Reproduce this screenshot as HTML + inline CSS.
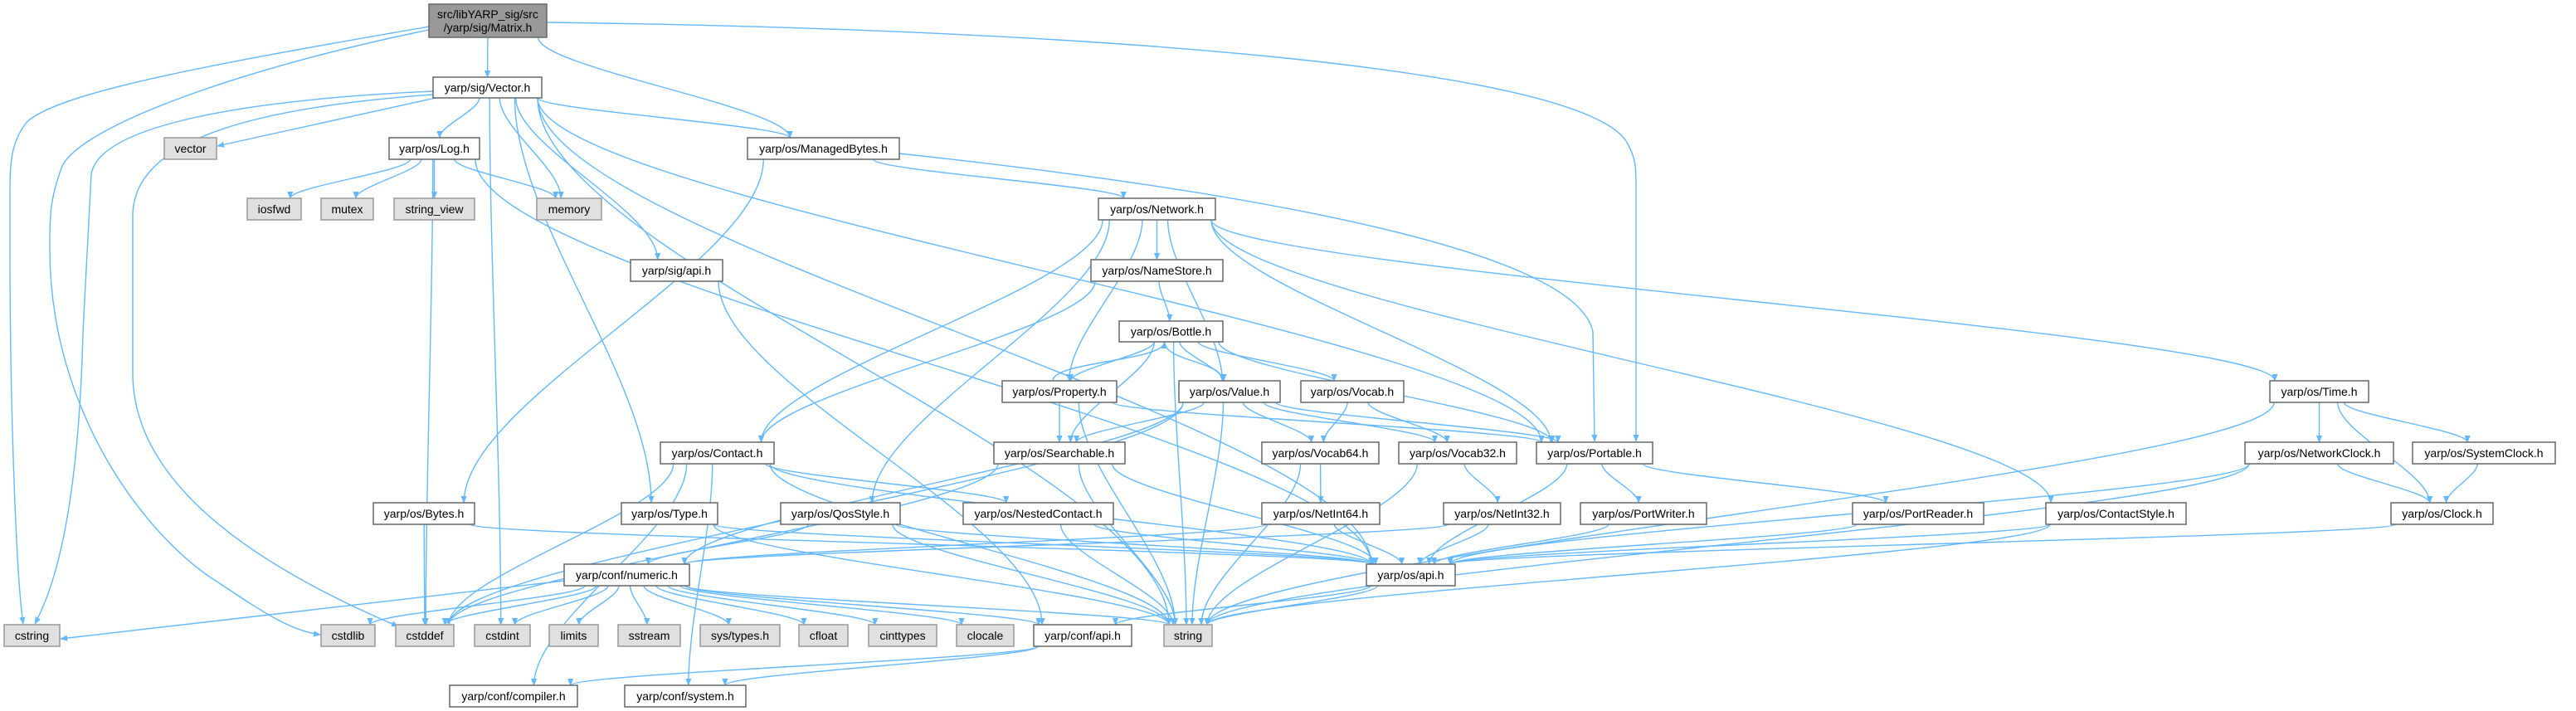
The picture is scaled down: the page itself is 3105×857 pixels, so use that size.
<!DOCTYPE html>
<html><head><meta charset="utf-8"><style>
html,body{margin:0;padding:0;background:#fff;}
svg{display:block}
text{font-family:"Liberation Sans",sans-serif;font-size:14px;fill:#000}
</style></head><body>
<svg id="g" width="3105" height="857" viewBox="0 0 3105 857" xmlns="http://www.w3.org/2000/svg">
<defs><marker id="a" viewBox="0 0 10 10" refX="9" refY="5" markerWidth="9" markerHeight="9" orient="auto" markerUnits="userSpaceOnUse"><path d="M0,1 L10,5 L0,9 z" fill="#63b8ff"/></marker></defs>
<g id="edges" fill="none" stroke="#63b8ff" stroke-width="1.4"></g>
<g id="nodes"></g>
</svg>
<script>
var N={
M:[517,5,659,45,"src/libYARP_sig/src|/yarp/sig/Matrix.h",2],
Vec:[522,93,653,118,"yarp/sig/Vector.h",0],
vector:[198,166,261,192,"vector",1],
Log:[469,166,578,192,"yarp/os/Log.h",0],
iosfwd:[298,239,363,265,"iosfwd",1],
mutex:[387,239,450,265,"mutex",1],
sv:[475,239,572,265,"string_view",1],
memory:[647,239,725,265,"memory",1],
MB:[901,166,1084,192,"yarp/os/ManagedBytes.h",0],
sigapi:[760,313,871,339,"yarp/sig/api.h",0],
Net:[1324,239,1465,265,"yarp/os/Network.h",0],
NS:[1315,313,1474,339,"yarp/os/NameStore.h",0],
Bot:[1349,387,1474,412,"yarp/os/Bottle.h",0],
Prop:[1208,459,1346,485,"yarp/os/Property.h",0],
Val:[1421,459,1543,485,"yarp/os/Value.h",0],
Voc:[1568,459,1692,485,"yarp/os/Vocab.h",0],
Time:[2736,459,2855,485,"yarp/os/Time.h",0],
Con:[796,533,933,559,"yarp/os/Contact.h",0],
Sea:[1198,533,1356,559,"yarp/os/Searchable.h",0],
V64:[1521,533,1662,559,"yarp/os/Vocab64.h",0],
V32:[1686,533,1828,559,"yarp/os/Vocab32.h",0],
Por:[1852,533,1992,559,"yarp/os/Portable.h",0],
NC:[2706,533,2885,559,"yarp/os/NetworkClock.h",0],
SC:[2908,533,3080,559,"yarp/os/SystemClock.h",0],
Byt:[450,606,572,632,"yarp/os/Bytes.h",0],
Typ:[749,606,865,632,"yarp/os/Type.h",0],
Qos:[941,606,1085,632,"yarp/os/QosStyle.h",0],
Nest:[1161,606,1342,632,"yarp/os/NestedContact.h",0],
N64:[1521,606,1663,632,"yarp/os/NetInt64.h",0],
N32:[1740,606,1881,632,"yarp/os/NetInt32.h",0],
PW:[1905,606,2057,632,"yarp/os/PortWriter.h",0],
PR:[2233,606,2391,632,"yarp/os/PortReader.h",0],
CS:[2466,606,2635,632,"yarp/os/ContactStyle.h",0],
Clk:[2882,606,3005,632,"yarp/os/Clock.h",0],
num:[680,680,831,706,"yarp/conf/numeric.h",0],
osapi:[1647,680,1754,706,"yarp/os/api.h",0],
cstring:[5,753,72,779,"cstring",1],
cstdlib:[387,753,452,779,"cstdlib",1],
cstddef:[477,753,547,779,"cstddef",1],
cstdint:[572,753,639,779,"cstdint",1],
limits:[662,753,721,779,"limits",1],
sstream:[745,753,820,779,"sstream",1],
systypes:[844,753,940,779,"sys/types.h",1],
cfloat:[963,753,1022,779,"cfloat",1],
cinttypes:[1047,753,1129,779,"cinttypes",1],
clocale:[1153,753,1222,779,"clocale",1],
confapi:[1246,753,1364,779,"yarp/conf/api.h",0],
string:[1403,753,1461,779,"string",1],
comp:[542,826,696,852,"yarp/conf/compiler.h",0],
sys:[753,826,899,852,"yarp/conf/system.h",0]
};
var E=[
["M","Vec"],["M","MB"],["M","Por"],["M","cstring"],["M","cstdlib"],
["Vec","vector"],["Vec","Log"],["Vec","memory"],["Vec","MB"],["Vec","sigapi"],["Vec","Typ"],["Vec","Por"],["Vec","cstring"],["Vec","cstddef"],["Vec","string"],["Vec","osapi"],["Vec","cstdint"],
["Log","iosfwd"],["Log","mutex"],["Log","sv"],["Log","memory"],["Log","cstddef"],["Log","osapi"],
["MB","Net"],["MB","Byt"],["MB","Por"],
["sigapi","confapi"],
["Net","NS"],["Net","Con"],["Net","Prop"],["Net","Val"],["Net","Por"],["Net","Time"],["Net","CS"],["Net","Qos"],
["NS","Bot"],["NS","Con"],
["Bot","Prop"],["Bot","Val"],["Bot","Sea"],["Bot","Voc"],["Bot","Por"],["Bot","string"],
["Prop","Bot"],["Prop","Sea"],["Prop","Por"],["Prop","string"],
["Val","Bot"],["Val","Sea"],["Val","V64"],["Val","V32"],["Val","Por"],["Val","string"],["Val","cstddef"],["Val","num"],
["Voc","V64"],["Voc","V32"],
["Sea","osapi"],["Sea","string"],["Sea","cstddef"],
["V64","N64"],["V64","string"],["V32","N32"],["V32","string"],
["Por","PW"],["Por","PR"],["Por","osapi"],
["Con","Nest"],["Con","osapi"],["Con","string"],["Con","comp"],["Con","sys"],["Con","cstddef"],
["Byt","cstddef"],["Byt","osapi"],["Typ","osapi"],["Typ","string"],
["Qos","num"],["Qos","osapi"],["Qos","string"],
["Nest","osapi"],["Nest","string"],
["N64","osapi"],["N64","num"],["N32","osapi"],["N32","num"],
["PW","osapi"],["PR","osapi"],["CS","osapi"],["CS","string"],["Clk","osapi"],
["Time","NC"],["Time","SC"],["Time","Clk"],["Time","string"],
["NC","Clk"],["NC","osapi"],["NC","string"],["SC","Clk"],
["osapi","string"],["osapi","confapi"],
["num","cstring"],["num","cstdlib"],["num","cstddef"],["num","cstdint"],["num","limits"],["num","sstream"],["num","systypes"],["num","cfloat"],["num","cinttypes"],["num","clocale"],["num","confapi"],["num","string"],
["confapi","comp"],["confapi","sys"]
];
var P={
"M>cstring":"M517,32 C300,70 60,110 30,150 C12,175 12,200 12,240 L12,300 C12,500 20,700 28,752",
"M>cstdlib":"M517,36 C300,80 100,150 75,200 C60,240 60,260 60,300 C60,500 180,650 260,700 C320,740 350,760 386,765",
"Vec>cstring":"M522,110 C300,120 120,150 110,210 L100,400 C95,600 70,700 42,752",
"Vec>cstddef":"M522,114 C300,130 160,170 160,260 L160,450 C160,600 350,700 480,755",
"M>Por":"M659,27 C1300,35 1900,80 1960,170 C1972,190 1972,200 1972,230 L1972,532",
"MB>Por":"M1084,185 C1500,230 1900,300 1920,400 L1922,532",
"num>cstring":"M680,700 L73,770",
"Vec>vector":"M525,118 L262,176"
};
var NS="http://www.w3.org/2000/svg";
function cl(v,a,b){return Math.max(a,Math.min(b,v));}
var eg=document.getElementById("edges"),ng=document.getElementById("nodes");
E.forEach(function(e){
 var s=N[e[0]],t=N[e[1]];
 var sx=(s[0]+s[2])/2,tx=(t[0]+t[2])/2,d=P[e[0]+">"+e[1]];
 if(d){}
 else if(t[1]>s[3]+2){
  var sy=s[3],ty=t[1];
  var tx2=cl(tx+(sx-tx)*0.1,t[0]+6,t[2]-6);
  var m=(ty-sy)/2;
  sx=cl(sx+(tx-sx)*0.15,s[0]+5,s[2]-5);
  d="M"+sx+","+sy+" C"+sx+","+(sy+m*0.6)+" "+tx2+","+(ty-m*0.6)+" "+tx2+","+ty;
 } else if(s[1]>t[3]+2){
  var sy=s[1],ty=t[3];var m=(sy-ty)/2;
  d="M"+(sx-8)+","+sy+" C"+(sx-8)+","+(sy-m)+" "+(tx-8)+","+(ty+m)+" "+(tx-8)+","+ty;
 } else {
  var right=tx>sx;
  var x1=right?s[2]:s[0],x2=right?t[0]:t[2],y1=(s[1]+s[3])/2,y2=(t[1]+t[3])/2;
  d="M"+x1+","+y1+" C"+((x1+x2)/2)+","+(y1+30)+" "+((x1+x2)/2)+","+(y2+30)+" "+x2+","+y2;
 }
 var p=document.createElementNS(NS,"path");p.setAttribute("d",d);p.setAttribute("marker-end","url(#a)");eg.appendChild(p);
});
for(var k in N){var n=N[k];
 var r=document.createElementNS(NS,"rect");
 r.setAttribute("x",n[0]);r.setAttribute("y",n[1]);r.setAttribute("width",n[2]-n[0]);r.setAttribute("height",n[3]-n[1]);
 r.setAttribute("fill",n[5]==2?"#999999":(n[5]==1?"#e0e0e0":"#ffffff"));
 r.setAttribute("stroke",n[5]==1?"#999999":"#666666");r.setAttribute("stroke-width","1.5");ng.appendChild(r);
 var lines=n[4].split("|"),cx=(n[0]+n[2])/2,cy=(n[1]+n[3])/2;
 lines.forEach(function(L,i){var t=document.createElementNS(NS,"text");
  t.setAttribute("x",cx);t.setAttribute("y",cy+5+(i-(lines.length-1)/2)*16);t.setAttribute("text-anchor","middle");
  t.textContent=L;ng.appendChild(t);});
}
</script>
</body></html>
